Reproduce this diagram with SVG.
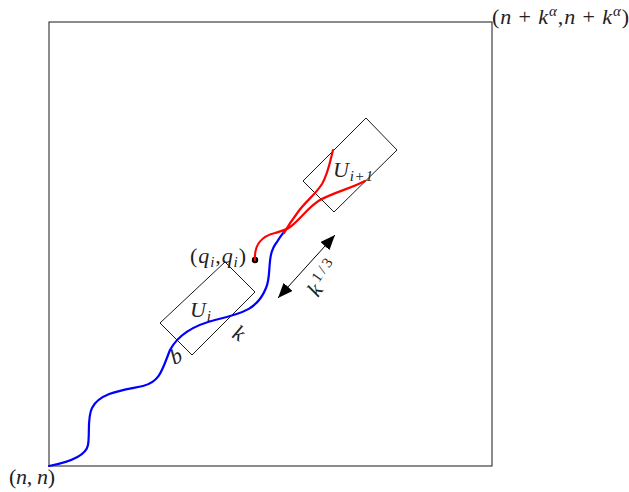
<svg xmlns="http://www.w3.org/2000/svg" width="629" height="492" viewBox="0 0 629 492">
<style>
.frame{fill:none;stroke:#000;stroke-width:0.9}
.box{fill:none;stroke:#000;stroke-width:0.9}
.blue{fill:none;stroke:#0000ff;stroke-width:2.2;stroke-linecap:round}
.red{fill:none;stroke:#ff0000;stroke-width:2.2;stroke-linecap:round}
.t{font-family:"Liberation Serif","Times New Roman",serif;font-size:22px;fill:#222}
.i{font-style:italic}
.s{font-size:15px}
</style>
<defs>
<marker id="ah" markerUnits="userSpaceOnUse" markerWidth="15" markerHeight="12" refX="15" refY="6" orient="auto-start-reverse">
<path d="M0,0 L15,6 L0,12 z" fill="#000"/>
</marker>
</defs>
<g id="frame">
<rect class="frame" x="49" y="22" width="443" height="444"/>
<text class="t" x="9" y="484" textLength="46" lengthAdjust="spacing">(<tspan class="i">n</tspan>, <tspan class="i">n</tspan>)</text>
<text class="t" x="492" y="24" textLength="137" lengthAdjust="spacing">(<tspan class="i">n</tspan> + <tspan class="i">k</tspan><tspan class="i s" dy="-8">α</tspan><tspan dy="8">,</tspan><tspan class="i">n</tspan> + <tspan class="i">k</tspan><tspan class="i s" dy="-8">α</tspan><tspan dy="8">)</tspan></text>
</g>
<g id="Ui">
<polygon class="box" points="225,262 255,292 192,355 160,323"/>
<text class="t" x="190" y="317" textLength="21" lengthAdjust="spacing"><tspan class="i">U</tspan><tspan class="i s" dy="4">i</tspan></text>
<text class="t i" transform="translate(174,365) rotate(-25)">b</text>
<text class="t i" transform="translate(231,337) rotate(30)">k</text>
</g>
<g id="Ui1">
<polygon class="box" points="366,118 397,150 334,212 303,181"/>
<text class="t" x="333" y="177" textLength="40" lengthAdjust="spacing"><tspan class="i">U</tspan><tspan class="i s" dy="4">i+1</tspan></text>
</g>
<g id="q">
<circle cx="255" cy="260" r="3.2" fill="#000"/>
<text class="t" x="190" y="263" textLength="56" lengthAdjust="spacing">(<tspan class="i">q</tspan><tspan class="i s" dy="4">i</tspan><tspan dy="-4">,</tspan><tspan class="i">q</tspan><tspan class="i s" dy="4">i</tspan><tspan dy="-4">)</tspan></text>
</g>
<g id="connectors">
<path class="blue" d="M49,466 C70,462 86,456 88,445 C90,434 87,418 92,408 C100,392 125,390 143,386 C160,382 162,370 170,350 C178,335 195,325 215,320 C245,313 258,308 266,288 C272,275 266,255 277,242 C280,237 282,234 285,231"/>
<path class="red" d="M255,260 C254,245 262,236 275,233 C282,231 286,230 290,227 C300,220 308,207 320,200 C335,192 352,188 365,181"/>
<path class="red" d="M284,233 C288,226 292,220 298,212 C305,202 315,195 322,184 C328,174 330,162 333,150"/>
<line x1="278" y1="298" x2="335" y2="235" stroke="#000" stroke-width="1" marker-start="url(#ah)" marker-end="url(#ah)"/>
<text class="t" transform="translate(318,298) rotate(-55)" textLength="38" lengthAdjust="spacing"><tspan class="i">k</tspan><tspan class="s" dy="-8">1/3</tspan></text>
</g>
</svg>
